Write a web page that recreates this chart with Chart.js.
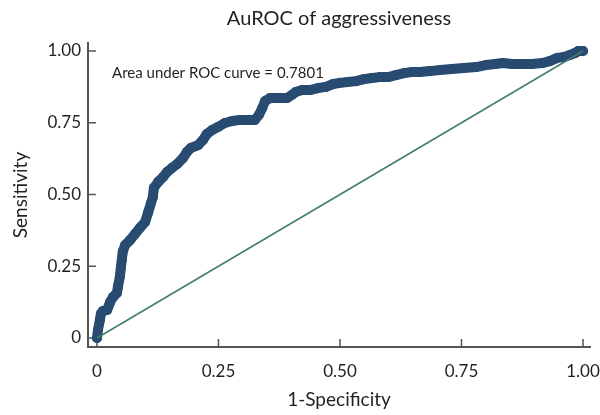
<!DOCTYPE html>
<html>
  <head>
    <script src="https://cdn.jsdelivr.net/npm/chart.js"></script>
    <style>
      html, body { margin: 0; padding: 0; background: #fff; }
      #wrap { width: 600px; height: 415px; }
    </style>
  </head>
  <body>
    <div id="wrap"><canvas id="roc-chart"></canvas></div>
    <script>
      // values
      var fpr = [0, 0.002, 0.006, 0.008, 0.012, 0.021, 0.027, 0.033, 0.041, 0.043,
        0.047, 0.049, 0.051, 0.053, 0.058, 0.068, 0.078, 0.088, 0.099, 0.105,
        0.111, 0.115, 0.117, 0.126, 0.136, 0.144, 0.154, 0.165, 0.177, 0.185,
        0.193, 0.208, 0.218, 0.226, 0.237, 0.249, 0.263, 0.278, 0.294, 0.311,
        0.325, 0.333, 0.340, 0.346, 0.356, 0.372, 0.391, 0.401, 0.409, 0.422,
        0.438, 0.455, 0.471, 0.486, 0.500, 0.516, 0.533, 0.549, 0.566, 0.582,
        0.599, 0.615, 0.632, 0.648, 0.665, 0.685, 0.706, 0.730, 0.755, 0.780,
        0.800, 0.819, 0.835, 0.854, 0.874, 0.895, 0.916, 0.932, 0.947, 0.961,
        0.973, 0.984, 0.990, 0.998, 1.0];
      var tpr = [0, 0.028, 0.063, 0.084, 0.094, 0.098, 0.125, 0.143, 0.157, 0.178,
        0.213, 0.244, 0.272, 0.300, 0.324, 0.341, 0.362, 0.383, 0.404, 0.436,
        0.470, 0.491, 0.523, 0.544, 0.561, 0.578, 0.592, 0.606, 0.627, 0.648,
        0.662, 0.672, 0.690, 0.711, 0.725, 0.735, 0.749, 0.756, 0.760, 0.760,
        0.760, 0.777, 0.801, 0.826, 0.836, 0.836, 0.836, 0.847, 0.857, 0.864,
        0.864, 0.871, 0.875, 0.885, 0.889, 0.892, 0.895, 0.902, 0.906, 0.909,
        0.909, 0.916, 0.923, 0.927, 0.927, 0.930, 0.934, 0.937, 0.941, 0.944,
        0.951, 0.955, 0.958, 0.955, 0.955, 0.955, 0.958, 0.965, 0.976, 0.979,
        0.986, 0.993, 1.0, 1.0, 1.0];
      var refX = [0, 1];
      var refY = [0, 1];
      var tickVals = [0, 0.25, 0.5, 0.75, 1];
      var tickLabels = ['0', '0.25', '0.50', '0.75', '1.00'];
      var titleText = 'AuROC of aggressiveness';
      var aucText = 'Area under ROC curve = 0.7801';

      var FONT = 'Lato, "Open Sans", sans-serif';
      var TXT = '#231f20';
      var AXIS = '#555555';

      function toPoints(xs, ys) {
        return xs.map(function (x, i) { return { x: x, y: ys[i] }; });
      }

      // title centred over the plot, inward ticks, and the AUC note
      var extras = {
        id: 'extras',
        beforeDatasetsDraw: function (chart) {
          var ctx = chart.ctx, a = chart.chartArea;
          var xs = chart.scales.x, ys = chart.scales.y;
          ctx.save();
          ctx.strokeStyle = AXIS;
          ctx.lineWidth = 1.5;
          ctx.beginPath();
          tickVals.forEach(function (v) {
            var px = xs.getPixelForValue(v);
            ctx.moveTo(px, a.bottom);
            ctx.lineTo(px, a.bottom - 8);
            var py = ys.getPixelForValue(v);
            ctx.moveTo(a.left, py);
            ctx.lineTo(a.left + 8, py);
          });
          ctx.stroke();
          ctx.fillStyle = TXT;
          ctx.textBaseline = 'middle';
          ctx.textAlign = 'left';
          ctx.font = '15px ' + FONT;
          ctx.fillText(aucText, xs.getPixelForValue(0.031), ys.getPixelForValue(0.923));
          ctx.textAlign = 'center';
          ctx.font = '20px ' + FONT;
          ctx.fillText(titleText, (a.left + a.right) / 2, 19);
          ctx.restore();
        }
      };

      function fixedTicks(s) {
        s.ticks = tickVals.map(function (v) { return { value: v }; });
      }

      var ctx = document.getElementById('roc-chart').getContext('2d');
      var rocChart = new Chart(ctx, {
        type: 'scatter',
        data: {
          datasets: [{
            label: 'Reference',
            data: toPoints(refX, refY),
            showLine: true,
            borderColor: '#3f7d6c',
            borderWidth: 1.5,
            pointRadius: 0,
            order: 0
          }, {
            label: 'ROC',
            data: toPoints(fpr, tpr),
            showLine: true,
            borderColor: '#284b72',
            backgroundColor: '#284b72',
            borderWidth: 10,
            borderJoinStyle: 'round',
            borderCapStyle: 'round',
            pointRadius: 5,
            pointBorderWidth: 0,
            order: 1
          }]
        },
        options: {
          responsive: true,
          maintainAspectRatio: false,
          animation: false,
          layout: { padding: { left: 6, right: 10, top: 43, bottom: 2 } },
          plugins: {
            legend: { display: false },
            tooltip: { enabled: false },
            title: { display: false }
          },
          scales: {
            x: {
              type: 'linear',
              min: -0.0185,
              max: 1.0144,
              afterBuildTicks: fixedTicks,
              afterFit: function (s) {
                s.height = 66;
                s.paddingLeft = 0;
                s.paddingRight = 0;
              },
              ticks: {
                color: TXT,
                font: { family: FONT, size: 17 },
                padding: 14,
                maxRotation: 0,
                callback: function (v) { return tickLabels[tickVals.indexOf(v)]; }
              },
              grid: { display: false, drawTicks: false },
              border: { display: true, color: AXIS, width: 2 },
              title: {
                display: true,
                text: '1-Specificity',
                color: TXT,
                font: { family: FONT, size: 19 },
                padding: { top: 4, bottom: 2 }
              }
            },
            y: {
              type: 'linear',
              min: -0.0314,
              max: 1.0279,
              afterBuildTicks: fixedTicks,
              afterFit: function (s) {
                s.width = 82;
                s.paddingTop = 0;
                s.paddingBottom = 0;
              },
              ticks: {
                color: TXT,
                font: { family: FONT, size: 17 },
                padding: 7,
                callback: function (v) { return tickLabels[tickVals.indexOf(v)]; }
              },
              grid: { display: false, drawTicks: false },
              border: { display: true, color: AXIS, width: 2 },
              title: {
                display: true,
                text: 'Sensitivity',
                color: TXT,
                font: { family: FONT, size: 19 },
                padding: { top: 3, bottom: 8 }
              }
            }
          }
        },
        plugins: [extras]
      });
    </script>
  </body>
</html>
